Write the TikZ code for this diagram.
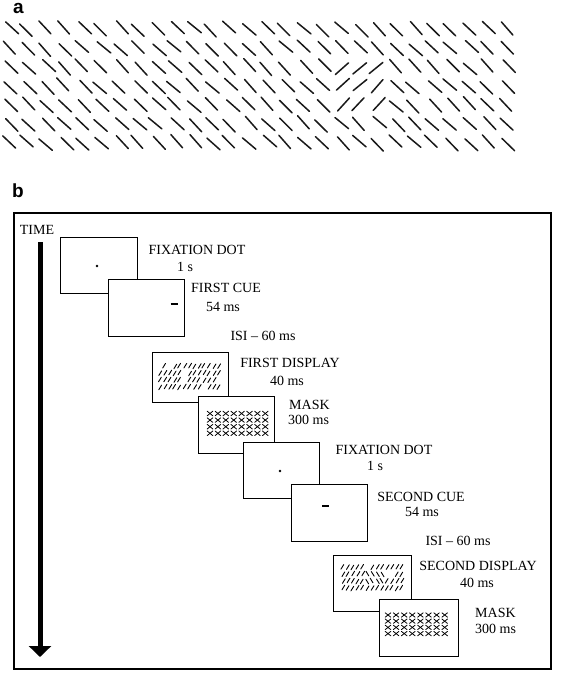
\documentclass[tikz,border=0pt]{standalone}
\usepackage{fontspec}
\setmainfont{Liberation Serif}
\newfontfamily\labfont{Liberation Sans}
\usetikzlibrary{arrows.meta}
\begin{document}
\begin{tikzpicture}[x=1pt,y=-1pt,
  scr/.style={draw=black,fill=white,line width=1.2pt,inner sep=0pt,anchor=north west},
  lbl/.style={font=\fontsize{14}{16}\selectfont,anchor=base,inner sep=0pt},
  panel/.style={font=\labfont\bfseries\fontsize{19}{19}\selectfont,anchor=base west,inner sep=0pt},
  bar/.style={line width=1.5pt,line cap=round,black!90},
  tick/.style={line width=0.9pt,line cap=round},
  xtick/.style={line width=0.8pt,line cap=round},
  ]
\useasboundingbox (0,0) rectangle (566,685);
% ---------------- panel a ----------------
\node[panel] (la) at (13,14) {a};
\pgfmathsetseed{17}
\foreach \r in {0,...,6}{
  \foreach \c in {0,...,27}{
    \pgfmathsetmacro{\cx}{10+\c*18.4+rand*2.5}
    \pgfmathsetmacro{\cy}{29+\r*19+rand*2}
    \pgfmathtruncatemacro{\fl}{(\c>=18)&&(\c<=20)&&(\r>=2)&&(\r<=4)}
    \pgfmathsetmacro{\ang}{(1-2*\fl)*44+rand*5}
    \pgfmathsetmacro{\dx}{8.8*cos(\ang)}
    \pgfmathsetmacro{\dy}{8.8*sin(\ang)}
    \draw[bar] ({\cx-\dx},{\cy-\dy}) -- ({\cx+\dx},{\cy+\dy});
  }
}
% ---------------- panel b ----------------
\node[panel] (lb) at (12,197) {b};
\draw[line width=1.2pt] (14,213) rectangle (551,669);
\node[lbl] (time) at (37,234.5) {TIME};
\coordinate (a0) at (40,242);
\coordinate (a1) at (40,657);
\draw[line width=5pt,-{Triangle[length=11pt,width=22pt]}] (a0) -- (a1);

% screen 1: fixation dot
\node[scr,minimum width=77pt,minimum height=56pt] (s1) at (60,237) {};
\fill (97,266) circle (1.3pt);
\node[lbl] (t1a) at (197,254.5) {FIXATION DOT};
\node[lbl] (t1b) at (185,271.5) {1 s};
% screen 2: first cue
\node[scr,minimum width=76pt,minimum height=57pt] (s2) at (108,279) {};
\draw[line width=2pt] (170.5,304) -- (177.5,304);
\node[lbl] (t2a) at (226,292.5) {FIRST CUE};
\node[lbl] (t2b) at (223,311.5) {54 ms};
\node[lbl] (isi1) at (263,340.5) {ISI -- 60 ms};
% screen 3: first display
\node[scr,minimum width=76pt,minimum height=50pt] (s3) at (152,352) {};
\pgfmathsetseed{5}
\foreach \r in {0,...,3}{
  \foreach \c in {0,...,12}{
    \pgfmathsetmacro{\cx}{160+\c*4.9+rand*0.9}
    \pgfmathsetmacro{\cy}{366+\r*7+rand*0.6}
    \pgfmathtruncatemacro{\sk}{rnd<0.12}
    \ifnum\sk=0
      \draw[tick] ({\cx-1.4},{\cy+2.3}) -- ({\cx+1.4},{\cy-2.3});
    \fi
  }
}
\node[lbl] (t3a) at (290,367.5) {FIRST DISPLAY};
\node[lbl] (t3b) at (287,385.5) {40 ms};
% screen 4: mask
\node[scr,minimum width=76pt,minimum height=57pt] (s4) at (198,396) {};
\foreach \r in {0,...,3}{
  \foreach \c in {0,...,7}{
    \pgfmathsetmacro{\cx}{210+\c*7.9}
    \pgfmathsetmacro{\cy}{413.5+\r*6.6}
    \draw[xtick] ({\cx-2.8},{\cy-2.3}) -- ({\cx+2.8},{\cy+2.3});
    \draw[xtick] ({\cx-2.8},{\cy+2.3}) -- ({\cx+2.8},{\cy-2.3});
  }
}
\node[lbl,anchor=base west] (t4a) at (289,409.5) {MASK};
\node[lbl,anchor=base west] (t4b) at (288,424.5) {300 ms};
% screen 5: fixation dot
\node[scr,minimum width=76pt,minimum height=56pt] (s5) at (243,442) {};
\fill (280,471) circle (1.3pt);
\node[lbl] (t5a) at (384,454.5) {FIXATION DOT};
\node[lbl] (t5b) at (375,470.5) {1 s};
% screen 6: second cue
\node[scr,minimum width=76pt,minimum height=57pt] (s6) at (291,484) {};
\draw[line width=1.6pt] (322,506) -- (328.5,506);
\node[lbl] (t6a) at (421,501.5) {SECOND CUE};
\node[lbl] (t6b) at (422,516.5) {54 ms};
\node[lbl] (isi2) at (458,545.5) {ISI -- 60 ms};
% screen 7: second display
\node[scr,minimum width=78pt,minimum height=56pt] (s7) at (333,555) {};
\pgfmathsetseed{9}
\foreach \r in {0,...,3}{
  \foreach \c in {0,...,12}{
    \pgfmathsetmacro{\cx}{343+\c*4.9+rand*0.9}
    \pgfmathsetmacro{\cy}{567+\r*7+rand*0.6}
    \pgfmathtruncatemacro{\fl}{(\c>=5)&&(\c<=8)&&(\r>=1)&&(\r<=2)}
    \pgfmathsetmacro{\sg}{1-2*\fl}
    \pgfmathtruncatemacro{\sk}{rnd<0.12}
    \ifnum\sk=0
      \draw[tick] ({\cx-1.4},{\cy+2.3*\sg}) -- ({\cx+1.4},{\cy-2.3*\sg});
    \fi
  }
}
\node[lbl] (t7a) at (478,570.5) {SECOND DISPLAY};
\node[lbl] (t7b) at (477,587.5) {40 ms};
% screen 8: mask
\node[scr,minimum width=79pt,minimum height=57pt] (s8) at (379,599) {};
\foreach \r in {0,...,3}{
  \foreach \c in {0,...,7}{
    \pgfmathsetmacro{\cx}{388+\c*8.1}
    \pgfmathsetmacro{\cy}{615+\r*6.2}
    \draw[xtick] ({\cx-2.8},{\cy-2.2}) -- ({\cx+2.8},{\cy+2.2});
    \draw[xtick] ({\cx-2.8},{\cy+2.2}) -- ({\cx+2.8},{\cy-2.2});
  }
}
\node[lbl,anchor=base west] (t8a) at (475,617.5) {MASK};
\node[lbl,anchor=base west] (t8b) at (475,633.5) {300 ms};
\end{tikzpicture}
\end{document}
